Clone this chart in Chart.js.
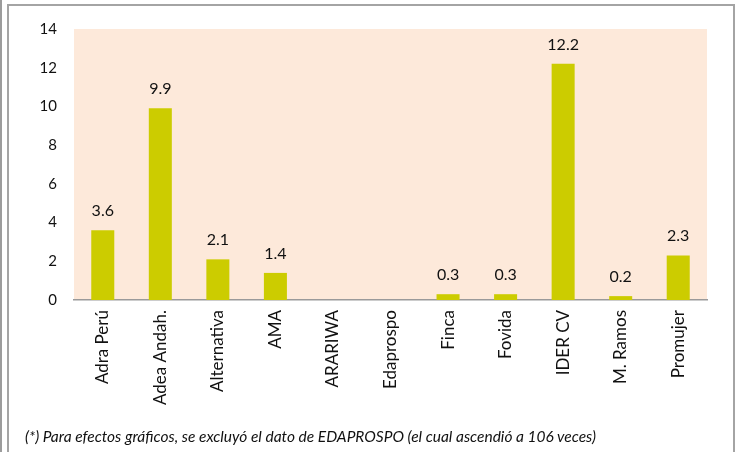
<!DOCTYPE html>
<html>
<head>
<meta charset="utf-8">
<script src="https://cdn.jsdelivr.net/npm/chart.js@4"></script>
<style>
  html, body { margin: 0; padding: 0; background: #fff; }
  #wrap { position: relative; width: 739px; height: 452px; overflow: hidden; }
  #outerLine { position: absolute; left: 0; top: 0; width: 2px; height: 452px; background: #9c9c9c; }
  #frame { position: absolute; left: 7px; top: 4px; width: 724px; height: 470px; border: 2px solid #a4a4a4; }
  #chartBox { position: absolute; left: 0; top: 0; width: 739px; height: 452px; }
  #note { position: absolute; left: 25px; top: 427px; font: italic 15.5px Lato, sans-serif; color: #111; white-space: nowrap; }
</style>
</head>
<body>
<div id="wrap">
  <div id="outerLine"></div>
  <div id="frame"></div>
  <div id="chartBox"><canvas id="chart"></canvas></div>
  <div id="note">(*) Para efectos gráficos, se excluyó el dato de EDAPROSPO (el cual ascendió a 106 veces)</div>
</div>
<script>
const categories = ["Adra Perú", "Adea Andah.", "Alternativa", "AMA", "ARARIWA", "Edaprospo",
  "Finca", "Fovida", "IDER CV", "M. Ramos", "Promujer"];
const values = [3.6, 9.9, 2.1, 1.4, null, null, 0.3, 0.3, 12.2, 0.2, 2.3];
const yTicks = [0, 2, 4, 6, 8, 10, 12, 14];

// fondo salmón del área de trazado
const plotBg = {
  id: "plotBg",
  beforeDraw(chart) {
    const { ctx, chartArea: a } = chart;
    ctx.save();
    ctx.fillStyle = "#fde9da";
    ctx.fillRect(a.left, a.top, a.right - a.left, a.bottom - a.top);
    ctx.restore();
  }
};

// etiquetas de valor encima de cada barra
const valueLabels = {
  id: "valueLabels",
  afterDatasetsDraw(chart) {
    const { ctx } = chart;
    const meta = chart.getDatasetMeta(0);
    ctx.save();
    ctx.font = "16px Lato, sans-serif";
    ctx.fillStyle = "#111";
    ctx.textAlign = "center";
    ctx.textBaseline = "alphabetic";
    meta.data.forEach((bar, i) => {
      const v = values[i];
      if (v == null) return;
      ctx.fillText(v.toFixed(1), bar.x, bar.y - 14);
    });
    ctx.restore();
  }
};

const ctx = document.getElementById("chart").getContext("2d");
new Chart(ctx, {
  type: "bar",
  data: {
    labels: categories,
    datasets: [{
      data: values,
      backgroundColor: "#cccc00",
      borderWidth: 0,
      barPercentage: 0.4,
      categoryPercentage: 1
    }]
  },
  options: {
    responsive: true,
    maintainAspectRatio: false,
    animation: false,
    layout: { padding: { left: 8, top: 29, right: 32, bottom: 0 } },
    plugins: {
      legend: { display: false },
      tooltip: { enabled: false }
    },
    scales: {
      x: {
        grid: { display: false, drawTicks: false },
        border: { display: true, color: "#9a9a9a", width: 1.5 },
        ticks: {
          minRotation: 90, maxRotation: 90, autoSkip: false, padding: 10,
          color: "#111", font: { family: "Lato", size: 17 }
        },
        afterFit(scale) { scale.height = 152; }
      },
      y: {
        min: 0, max: 14,
        grid: { display: false, drawTicks: false },
        border: { display: false },
        afterBuildTicks(scale) { scale.ticks = yTicks.map(v => ({ value: v })); },
        ticks: { padding: 17, color: "#111", font: { family: "Lato", size: 15 } },
        afterFit(scale) { scale.width = 66; }
      }
    }
  },
  plugins: [plotBg, valueLabels]
});
</script>
</body>
</html>
